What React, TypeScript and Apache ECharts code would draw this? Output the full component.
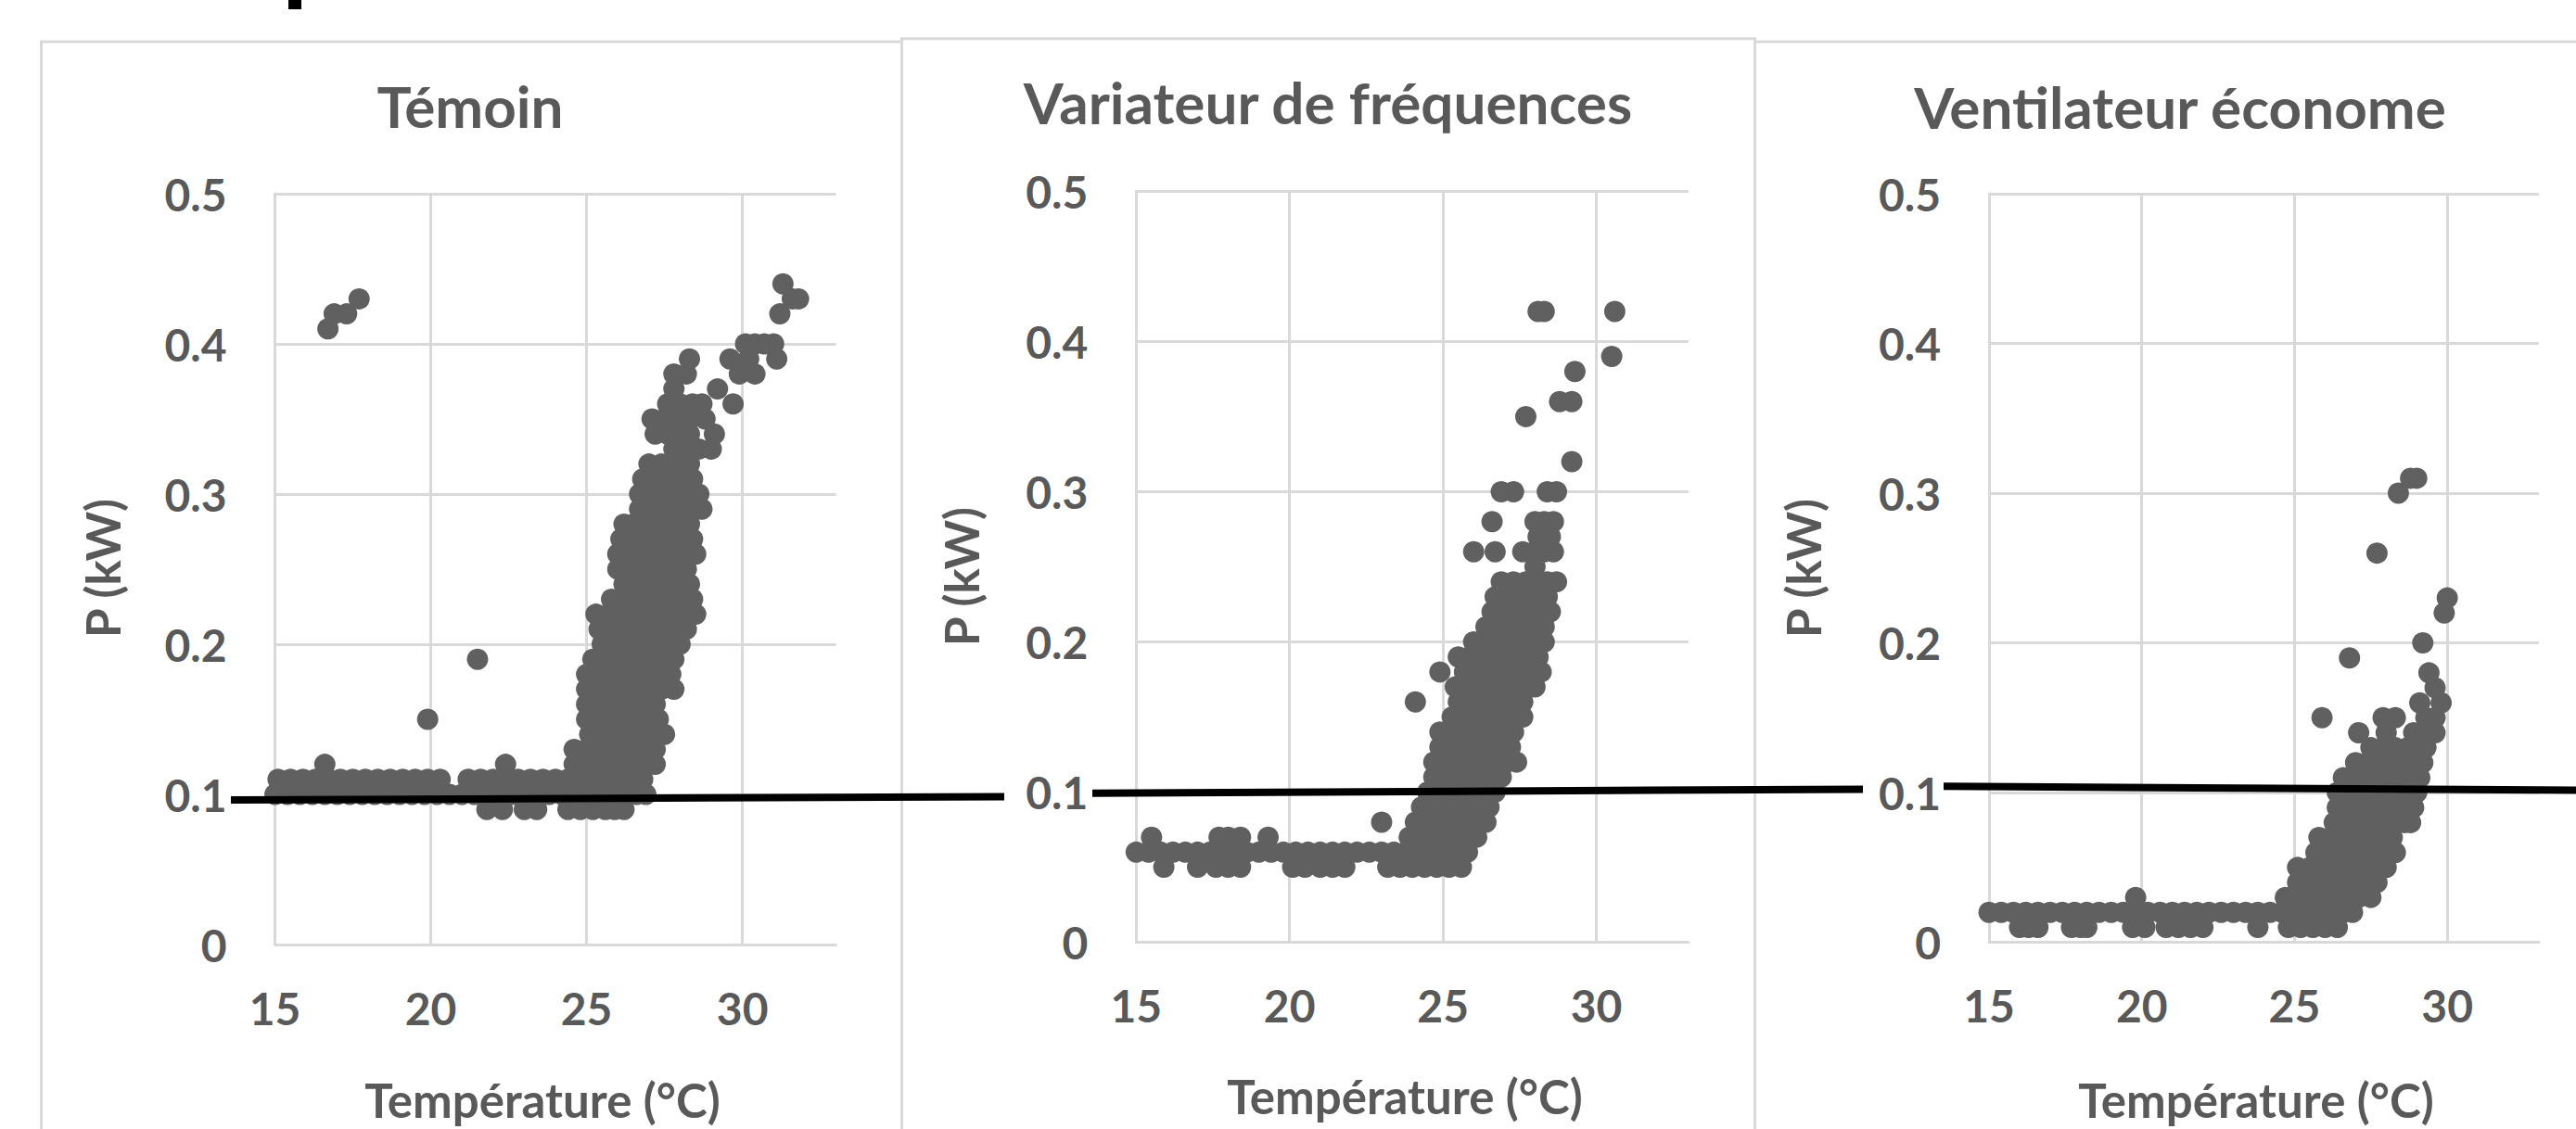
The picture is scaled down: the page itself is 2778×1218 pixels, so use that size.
import React, { useEffect, useRef } from "react";
import * as echarts from "echarts";

// ---------- texts ----------
const panelTitles = ["Témoin", "Variateur de fréquences", "Ventilateur économe"];
const xAxisTitle = "Température (°C)";
const yAxisTitle = "P (kW)";
const xTickLabels: Record<number, string> = { 15: "15", 20: "20", 25: "25", 30: "30" };
const yTickLabels = ["0", "0.1", "0.2", "0.3", "0.4", "0.5"];

// ---------- data: [P (kW), temperatures (°C) observed at that power] ----------
const temoinRows: [number, number[]][] = [
  [0.09, [21.8, 22.3, 23.0, 23.4, 24.4, 24.8, 25.2, 25.6, 25.9, 26.2]],
  [0.10, [15.0, 15.4, 15.8, 16.2, 16.6, 17.0, 17.4, 17.8, 18.2, 18.6, 19.0, 19.4, 19.8, 20.2, 20.6, 21.0, 21.4, 21.8, 22.2, 22.6, 23.0, 23.4, 23.8, 24.2, 24.6, 25.0, 25.4, 25.8, 26.2, 26.6, 26.9]],
  [0.11, [15.1, 15.5, 15.9, 16.3, 16.7, 17.1, 17.5, 17.9, 18.3, 18.7, 19.1, 19.5, 19.9, 20.3, 21.2, 21.6, 22.0, 22.4, 22.8, 23.2, 23.6, 24.0, 24.4, 24.8, 25.2, 25.6, 26.0, 26.4, 26.8]],
  [0.12, [16.6, 22.4, 24.6, 25.0, 25.4, 25.8, 26.2, 26.6, 27.0, 27.2]],
  [0.13, [24.6, 25.0, 25.4, 25.8, 26.2, 26.6, 27.0, 27.2]],
  [0.14, [25.1, 25.5, 25.9, 26.3, 26.7, 27.1, 27.5]],
  [0.15, [19.9, 25.0, 25.4, 25.8, 26.2, 26.6, 27.0, 27.3]],
  [0.16, [25.0, 25.4, 25.8, 26.2, 26.6, 27.0, 27.2]],
  [0.17, [25.0, 25.4, 25.8, 26.2, 26.6, 27.0, 27.4, 27.8]],
  [0.18, [25.0, 25.4, 25.8, 26.2, 26.6, 27.0, 27.4, 27.7]],
  [0.19, [21.5, 25.2, 25.6, 26.0, 26.4, 26.8, 27.2, 27.5, 27.8]],
  [0.20, [25.5, 25.9, 26.3, 26.7, 27.1, 27.5, 28.0]],
  [0.21, [25.4, 25.8, 26.2, 26.6, 27.0, 27.4, 27.8, 28.2]],
  [0.22, [25.3, 25.7, 26.1, 26.5, 26.9, 27.3, 27.7, 28.1, 28.5]],
  [0.23, [25.8, 26.2, 26.6, 27.0, 27.4, 27.8, 28.1, 28.4]],
  [0.24, [26.2, 26.6, 27.0, 27.4, 27.8, 28.3]],
  [0.25, [26.0, 26.4, 26.8, 27.2, 27.6, 28.0, 28.2]],
  [0.26, [26.0, 26.4, 26.8, 27.2, 27.6, 28.0, 28.5]],
  [0.27, [26.1, 26.5, 26.9, 27.3, 27.7, 28.1, 28.4]],
  [0.28, [26.2, 26.5, 26.9, 27.3, 27.7, 28.0, 28.3]],
  [0.29, [26.7, 27.1, 27.5, 27.9, 28.3, 28.7]],
  [0.30, [26.7, 27.1, 27.5, 27.9, 28.3, 28.6]],
  [0.31, [26.8, 27.2, 27.6, 28.0, 28.4]],
  [0.32, [27.0, 27.4, 27.8, 28.1, 28.3]],
  [0.33, [27.8, 28.2, 28.6, 29.0]],
  [0.34, [27.2, 27.6, 28.0, 28.3, 29.1]],
  [0.35, [27.1, 27.5, 27.9, 28.3, 28.8]],
  [0.36, [27.6, 28.0, 28.4, 28.7, 29.7]],
  [0.37, [27.8, 29.2]],
  [0.38, [27.8, 28.2, 29.9, 30.4]],
  [0.39, [28.3, 29.6, 30.2, 31.1]],
  [0.40, [30.1, 30.4, 30.7, 31.0]],
  [0.41, [16.7]],
  [0.42, [16.9, 17.3, 31.2]],
  [0.43, [17.7, 31.6, 31.8]],
  [0.44, [31.3]],
];

const variateurRows: [number, number[]][] = [
  [0.05, [15.9, 17.0, 17.6, 18.0, 18.4, 20.1, 20.5, 21.0, 21.4, 21.8, 23.2, 23.6, 24.0, 24.4, 24.8, 25.2, 25.6]],
  [0.06, [15.0, 15.4, 15.8, 16.2, 16.6, 17.0, 17.4, 17.8, 18.2, 18.6, 19.0, 19.4, 19.8, 20.2, 20.6, 21.0, 21.4, 21.8, 22.2, 22.6, 23.0, 23.4, 23.8, 24.2, 24.6, 25.0, 25.4, 25.8]],
  [0.07, [15.5, 17.7, 18.0, 18.4, 19.3, 23.9, 24.3, 24.7, 25.1, 25.5, 25.8, 26.1]],
  [0.08, [23.0, 24.1, 24.5, 24.9, 25.3, 25.7, 26.1, 26.4]],
  [0.09, [24.3, 24.7, 25.1, 25.5, 25.9, 26.2, 26.5]],
  [0.10, [24.5, 24.9, 25.3, 25.7, 26.1, 26.4, 26.7]],
  [0.11, [24.7, 25.1, 25.5, 25.9, 26.3, 26.6, 26.9]],
  [0.12, [24.7, 25.1, 25.5, 25.9, 26.3, 26.7, 27.1, 27.4]],
  [0.13, [24.9, 25.3, 25.7, 26.1, 26.5, 26.9, 27.2]],
  [0.14, [24.9, 25.3, 25.7, 26.1, 26.5, 26.9, 27.3]],
  [0.15, [25.3, 25.7, 26.1, 26.5, 26.9, 27.3, 27.6]],
  [0.16, [24.1, 25.5, 25.9, 26.3, 26.7, 27.1, 27.6]],
  [0.17, [25.4, 25.8, 26.2, 26.6, 27.0, 27.4, 27.7, 28.0]],
  [0.18, [24.9, 25.7, 26.1, 26.5, 26.9, 27.3, 27.7, 28.2]],
  [0.19, [25.5, 25.9, 26.3, 26.7, 27.1, 27.5, 27.8, 28.1]],
  [0.20, [26.0, 26.4, 26.8, 27.2, 27.6, 28.0, 28.3]],
  [0.21, [26.4, 26.8, 27.2, 27.6, 28.0, 28.3]],
  [0.22, [26.6, 27.0, 27.4, 27.8, 28.2, 28.5]],
  [0.23, [26.7, 27.1, 27.5, 27.9, 28.2, 28.4]],
  [0.24, [26.9, 27.3, 27.7, 28.1, 28.4, 28.7]],
  [0.25, [28.0]],
  [0.26, [26.0, 26.7, 27.6, 28.0, 28.3, 28.6]],
  [0.27, [28.1, 28.5]],
  [0.28, [26.6, 28.0, 28.3, 28.6]],
  [0.30, [26.9, 27.3, 28.4, 28.7]],
  [0.32, [29.2]],
  [0.35, [27.7]],
  [0.36, [28.8, 29.2]],
  [0.38, [29.3]],
  [0.39, [30.5]],
  [0.42, [28.1, 28.3, 30.6]],
];

const economeRows: [number, number[]][] = [
  [0.01, [16.0, 16.3, 16.6, 17.7, 18.0, 18.2, 19.7, 20.1, 20.8, 21.2, 21.6, 22.0, 23.8, 24.8, 25.2, 25.6, 26.0, 26.4]],
  [0.02, [15.0, 15.4, 15.8, 16.2, 16.6, 17.0, 17.4, 17.8, 18.2, 18.6, 19.0, 19.4, 19.8, 20.2, 20.6, 21.0, 21.4, 21.8, 22.2, 22.6, 23.0, 23.4, 23.8, 24.2, 24.6, 25.0, 25.4, 25.8, 26.2, 26.6, 26.9]],
  [0.03, [19.8, 24.7, 25.1, 25.5, 25.9, 26.3, 26.7, 27.1, 27.5]],
  [0.04, [25.1, 25.5, 25.9, 26.3, 26.7, 27.1, 27.4, 27.7]],
  [0.05, [25.1, 25.5, 25.9, 26.3, 26.7, 27.1, 27.5, 27.8, 28.0]],
  [0.06, [25.7, 26.1, 26.5, 26.9, 27.3, 27.7, 28.0, 28.3]],
  [0.07, [25.8, 26.2, 26.6, 27.0, 27.4, 27.8, 28.2]],
  [0.08, [26.3, 26.7, 27.1, 27.5, 27.9, 28.3, 28.6, 28.8]],
  [0.09, [26.4, 26.8, 27.2, 27.6, 28.0, 28.4, 28.7, 28.9]],
  [0.10, [26.4, 26.8, 27.2, 27.6, 28.0, 28.4, 28.7, 29.0]],
  [0.11, [26.6, 27.0, 27.4, 27.8, 28.2, 28.6, 28.9, 29.1]],
  [0.12, [27.0, 27.4, 27.8, 28.2, 28.6, 28.9, 29.2]],
  [0.13, [27.5, 27.9, 28.3, 28.7, 29.0, 29.3]],
  [0.14, [27.1, 28.0, 28.9, 29.2, 29.6]],
  [0.15, [25.9, 27.9, 28.3, 29.3, 29.6]],
  [0.16, [29.1, 29.8]],
  [0.17, [29.6]],
  [0.18, [29.4]],
  [0.19, [26.8]],
  [0.20, [29.2]],
  [0.22, [29.9]],
  [0.23, [30.0]],
  [0.26, [27.7]],
  [0.30, [28.4]],
  [0.31, [28.8, 29.0]],
];

const panelRows = [temoinRows, variateurRows, economeRows];

// ---------- layout & style ----------
const W = 2778;
const H = 1218;
const FONT = "Lato";
const TEXT = "#595959";
const GRIDC = "#d9d9d9";
const DOT = "#606060";

const grids = [
  { left: 296.5, top: 209, width: 605, height: 810 },
  { left: 1225.3, top: 206.3, width: 595.5, height: 810.3 },
  { left: 2145, top: 209, width: 593, height: 807.6 },
];
const boxes = [
  { x: 44.5, y: 45, w: 928, h: 1300 },
  { x: 972.5, y: 41.7, w: 920, h: 1300 },
  { x: 1892.5, y: 45, w: 1000, h: 1300 },
];
const titlePos = [
  [507, 114],
  [1432, 110],
  [2351, 115],
];
const xTitlePos = [
  [585, 1186],
  [1515, 1182],
  [2433, 1186],
];
const yTitlePos = [
  [110, 613],
  [1036, 622],
  [1944, 613],
];
const blackSegments = [
  [249, 863, 1083, 859.5],
  [1178, 855.8, 2009, 851.4],
  [2096, 848.3, 2778, 852.5],
];

function toPoints(rows: [number, number[]][]) {
  const pts: [number, number][] = [];
  rows.forEach(([p, temps]) => temps.forEach((t) => pts.push([t, p])));
  return pts;
}

export default function App() {
  const ref = useRef<HTMLDivElement>(null);

  useEffect(() => {
    if (!ref.current) return;
    const chart = echarts.init(ref.current, null, { renderer: "svg", width: W, height: H });

    const labelFont = { color: TEXT, fontFamily: FONT, fontWeight: "bold" as const, fontSize: 48 };

    const graphic: any[] = [];
    boxes.forEach((b) =>
      graphic.push({
        type: "rect",
        z: 0,
        shape: { x: b.x, y: b.y, width: b.w, height: b.h },
        style: { fill: "none", stroke: GRIDC, lineWidth: 3 },
      })
    );
    panelTitles.forEach((t, i) =>
      graphic.push({
        type: "text",
        z: 5,
        x: titlePos[i][0],
        y: titlePos[i][1],
        style: { text: t, align: "center", verticalAlign: "middle", fill: TEXT, font: `bold 62px ${FONT}` },
      })
    );
    xTitlePos.forEach((p) =>
      graphic.push({
        type: "text",
        z: 5,
        x: p[0],
        y: p[1],
        style: { text: xAxisTitle, align: "center", verticalAlign: "middle", fill: TEXT, font: `bold 51px ${FONT}` },
      })
    );
    yTitlePos.forEach((p) =>
      graphic.push({
        type: "text",
        z: 5,
        x: p[0],
        y: p[1],
        rotation: Math.PI / 2,
        style: { text: yAxisTitle, align: "center", verticalAlign: "middle", fill: TEXT, font: `bold 51px ${FONT}` },
      })
    );
    blackSegments.forEach((s) =>
      graphic.push({
        type: "line",
        z: 100,
        shape: { x1: s[0], y1: s[1], x2: s[2], y2: s[3] },
        style: { stroke: "#000000", lineWidth: 8 },
      })
    );
    graphic.push({
      type: "rect",
      z: 100,
      shape: { x: 311, y: 0, width: 14, height: 10 },
      style: { fill: "#000000" },
    });

    const option: any = {
      animation: false,
      backgroundColor: "#ffffff",
      grid: grids.map((g) => ({ ...g, containLabel: false, outerBoundsMode: "none" })),
      xAxis: grids.map((_, i) => ({
        type: "value",
        gridIndex: i,
        min: 15,
        max: 33,
        interval: 5,
        axisLine: { show: true, onZero: false, lineStyle: { color: GRIDC, width: 3 } },
        axisTick: { show: false },
        splitLine: { show: true, showMinLine: false, showMaxLine: false, lineStyle: { color: GRIDC, width: 3 } },
        axisLabel: {
          ...labelFont,
          margin: 68,
          verticalAlign: "middle",
          showMaxLabel: false,
          formatter: (v: number) => xTickLabels[Math.round(v)] ?? "",
        },
      })),
      yAxis: grids.map((_, i) => ({
        type: "value",
        gridIndex: i,
        min: 0,
        max: 0.5,
        interval: 0.1,
        axisLine: { show: true, lineStyle: { color: GRIDC, width: 3 } },
        axisTick: { show: false },
        splitLine: { show: true, showMinLine: false, lineStyle: { color: GRIDC, width: 3 } },
        axisLabel: {
          ...labelFont,
          margin: 52,
          formatter: (v: number) => yTickLabels[Math.round(v * 10)] ?? "",
        },
      })),
      series: panelRows.map((rows, i) => ({
        type: "scatter",
        name: panelTitles[i],
        xAxisIndex: i,
        yAxisIndex: i,
        symbol: "circle",
        symbolSize: 23,
        clip: false,
        itemStyle: { color: DOT, opacity: 1 },
        emphasis: { disabled: true },
        data: toPoints(rows),
      })),
      graphic,
    };

    chart.setOption(option);
    return () => chart.dispose();
  }, []);

  return (
    <div
      ref={ref}
      style={{ position: "absolute", left: 0, top: 0, width: W, height: H, background: "#fff" }}
    />
  );
}
